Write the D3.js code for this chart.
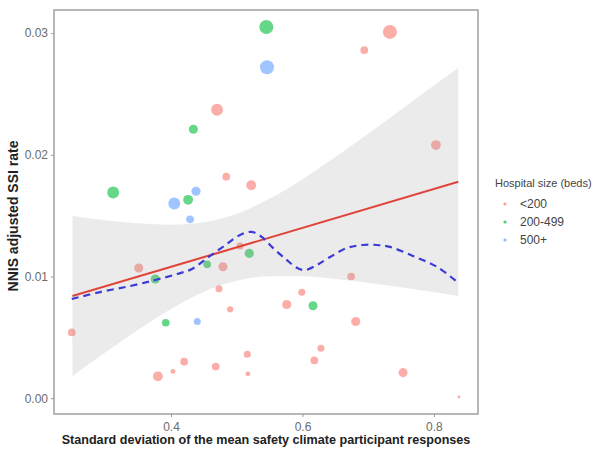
<!DOCTYPE html>
<html>
<head>
<meta charset="utf-8">
<script src="https://cdn.jsdelivr.net/npm/d3@7"></script>
<style>
  body { margin: 0; background: #fff; }
  text { font-family: "Liberation Sans", Arial, sans-serif; }
</style>
</head>
<body>
<script>
  // hospitals: sd of safety climate responses vs adjusted SSI rate
  const sdX = [0.312, 0.405, 0.426, 0.438, 0.429, 0.484, 0.522, 0.545, 0.546, 0.470,
    0.434, 0.694, 0.733, 0.803, 0.351, 0.376, 0.519, 0.455, 0.479, 0.674,
    0.473, 0.599, 0.576, 0.616, 0.490, 0.392, 0.440, 0.249, 0.681, 0.628,
    0.516, 0.618, 0.420, 0.468, 0.403, 0.517, 0.380, 0.753, 0.838, 0.505];
  const ssiRate = [0.0169, 0.0160, 0.0163, 0.0170, 0.0147, 0.0182, 0.0175, 0.0305, 0.0272, 0.0237,
    0.0221, 0.0286, 0.0301, 0.0208, 0.0107, 0.0098, 0.0119, 0.0110, 0.0108, 0.0100,
    0.0090, 0.0087, 0.0077, 0.0076, 0.0073, 0.0062, 0.0063, 0.0054, 0.0063, 0.0041,
    0.0036, 0.0031, 0.0030, 0.0026, 0.0022, 0.0020, 0.0018, 0.0021, 0.0001, 0.0125];
  const bedGroup = ["200-499", "500+", "200-499", "500+", "500+", "<200", "<200", "200-499", "500+", "<200",
    "200-499", "<200", "<200", "<200", "<200", "200-499", "200-499", "200-499", "<200", "<200",
    "<200", "<200", "<200", "200-499", "<200", "200-499", "500+", "<200", "<200", "<200",
    "<200", "<200", "<200", "<200", "<200", "<200", "<200", "<200", "<200", "<200"];
  const pointWeight = [8.5, 8.5, 7, 6.5, 5.5, 5.5, 7, 10, 10, 8.5,
    6.5, 5.5, 10, 7, 6.5, 6.5, 6.5, 5.5, 6.5, 5.5,
    5, 5, 6.5, 6.5, 4.5, 5.5, 5, 5.5, 6.5, 5,
    5, 5.5, 5.5, 5.5, 3.5, 3.5, 7, 6.5, 2, 5];

  const groups = ["<200", "200-499", "500+"];
  const groupColors = ["#F8766D", "#00BA38", "#619CFF"];

  // linear fit and its confidence band
  const fitX = [0.25, 0.837];
  const fitY = [0.0084, 0.01778];
  const bandX = [0.25, 0.30, 0.35, 0.40, 0.45, 0.50, 0.55, 0.60, 0.65, 0.70, 0.75, 0.80, 0.837];
  const bandLow = [0.00181, 0.00375, 0.00562, 0.00733, 0.00875, 0.00965, 0.01002, 0.01002, 0.0098, 0.00949, 0.00912, 0.00872, 0.0084];
  const bandHigh = [0.01498, 0.01463, 0.01438, 0.01426, 0.01446, 0.01515, 0.0164, 0.0180, 0.01981, 0.02174, 0.0237, 0.02571, 0.02716];

  // loess curve (dashed)
  const loessX = [0.249, 0.292, 0.338, 0.376, 0.409, 0.432, 0.455, 0.479, 0.505, 0.523, 0.538, 0.555,
    0.576, 0.592, 0.604, 0.622, 0.642, 0.668, 0.692, 0.713, 0.733, 0.768, 0.805, 0.837];
  const loessY = [0.00815, 0.00872, 0.00922, 0.00971, 0.01020, 0.01062, 0.01152, 0.01243, 0.01342, 0.01366, 0.01325, 0.01235,
    0.01136, 0.01070, 0.01053, 0.01095, 0.01160, 0.01235, 0.01259, 0.01259, 0.01243, 0.01169, 0.01078, 0.00947];

  const xTicks = [0.4, 0.6, 0.8];
  const yTicks = [0.00, 0.01, 0.02, 0.03];

  const W = 593, H = 452;
  const panel = { left: 54, right: 478, top: 10, bottom: 414 };

  const svg = d3.select("body").append("svg")
    .attr("width", W)
    .attr("height", H);

  const x = d3.scaleLinear().domain([0.222, 0.867]).range([panel.left, panel.right]);
  const y = d3.scaleLinear().domain([-0.0013, 0.0319]).range([panel.bottom, panel.top]);
  const color = d3.scaleOrdinal().domain(groups).range(groupColors);
  const r = d3.scaleLinear().domain([0, 10]).range([0, 7]);

  // points
  const pts = d3.range(sdX.length).map(i => ({ x: sdX[i], y: ssiRate[i], g: bedGroup[i], w: pointWeight[i] }));
  svg.append("g").selectAll("circle")
    .data(pts)
    .join("circle")
    .attr("cx", d => x(d.x))
    .attr("cy", d => y(d.y))
    .attr("r", d => r(d.w))
    .attr("fill", d => color(d.g))
    .attr("fill-opacity", 0.6);

  // confidence band
  const band = bandX.map((v, i) => ({ x: v, lo: bandLow[i], hi: bandHigh[i] }));
  svg.append("path")
    .datum(band)
    .attr("fill", "#999999")
    .attr("fill-opacity", 0.2)
    .attr("d", d3.area()
      .curve(d3.curveMonotoneX)
      .x(d => x(d.x))
      .y0(d => y(d.lo))
      .y1(d => y(d.hi)));

  // regression line
  const fit = fitX.map((v, i) => ({ x: v, y: fitY[i] }));
  const line = d3.line().x(d => x(d.x)).y(d => y(d.y));
  svg.append("path")
    .datum(fit)
    .attr("fill", "none")
    .attr("stroke", "#F0493E")
    .attr("stroke-width", 2.1)
    .attr("d", line);
  svg.append("path")
    .datum(fit)
    .attr("fill", "none")
    .attr("stroke", "#7a3a3a")
    .attr("stroke-opacity", 0.45)
    .attr("stroke-width", 0.6)
    .attr("d", line);

  // loess
  const lo = loessX.map((v, i) => ({ x: v, y: loessY[i] }));
  svg.append("path")
    .datum(lo)
    .attr("fill", "none")
    .attr("stroke", "#3a3ad6")
    .attr("stroke-width", 2.2)
    .attr("stroke-dasharray", "7,5")
    .attr("d", d3.line().curve(d3.curveCatmullRom).x(d => x(d.x)).y(d => y(d.y)));

  // panel border
  svg.append("rect")
    .attr("x", panel.left)
    .attr("y", panel.top)
    .attr("width", panel.right - panel.left)
    .attr("height", panel.bottom - panel.top)
    .attr("fill", "none")
    .attr("stroke", "#a6a6a6")
    .attr("stroke-width", 1.6);

  // axes
  const xAxis = svg.append("g")
    .attr("transform", "translate(0," + panel.bottom + ")")
    .call(d3.axisBottom(x).tickValues(xTicks).tickSize(3).tickPadding(5).tickFormat(d3.format(".1f")));
  const yAxis = svg.append("g")
    .attr("transform", "translate(" + panel.left + ",0)")
    .call(d3.axisLeft(y).tickValues(yTicks).tickSize(3).tickPadding(3).tickFormat(d3.format(".2f")));
  [xAxis, yAxis].forEach(a => {
    a.select(".domain").remove();
    a.selectAll(".tick line").attr("stroke", "#999");
    a.selectAll(".tick text").attr("fill", "#6b6b6b").style("font-size", "12px");
  });

  // axis titles
  svg.append("text")
    .attr("x", (panel.left + panel.right) / 2)
    .attr("y", 444)
    .attr("text-anchor", "middle")
    .style("font-size", "12.6px")
    .style("font-weight", "bold")
    .attr("fill", "#222")
    .text("Standard deviation of the mean safety climate participant responses");
  svg.append("text")
    .attr("transform", "translate(18,216) rotate(-90)")
    .attr("text-anchor", "middle")
    .style("font-size", "14px")
    .style("font-weight", "bold")
    .attr("fill", "#222")
    .text("NNIS adjusted SSI rate");

  // legend
  const lg = svg.append("g").attr("transform", "translate(495,0)");
  lg.append("text")
    .attr("x", 0)
    .attr("y", 187)
    .style("font-size", "11px")
    .attr("fill", "#444")
    .text("Hospital size (beds)");
  groups.forEach((g, i) => {
    lg.append("circle")
      .attr("cx", 10)
      .attr("cy", 204 + i * 18)
      .attr("r", 1.6)
      .attr("fill", color(g))
      .attr("fill-opacity", 0.7);
    lg.append("text")
      .attr("x", 25)
      .attr("y", 208 + i * 18)
      .style("font-size", "12px")
      .attr("fill", "#444")
      .text(g);
  });
</script>
</body>
</html>
